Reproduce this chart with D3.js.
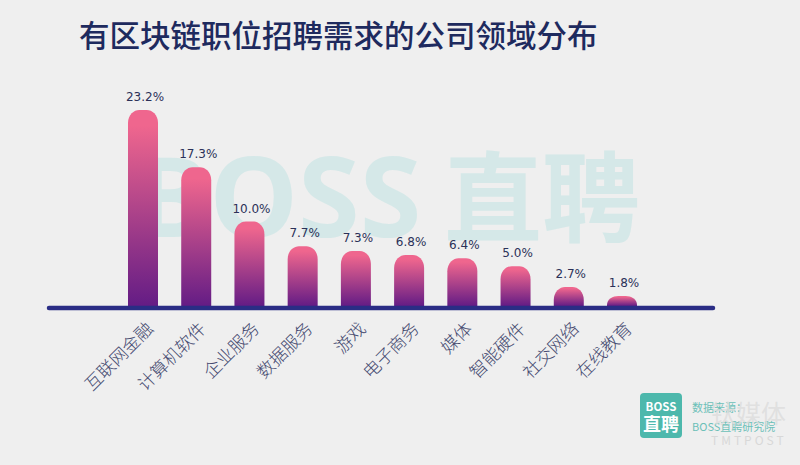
<!DOCTYPE html>
<html><head><meta charset="utf-8">
<script src="https://cdn.jsdelivr.net/npm/d3@7"></script>
<style>html,body{margin:0;padding:0;background:#efefef;overflow:hidden}svg{display:block}</style></head><body>
<svg id="c" width="800" height="465" font-family="'Noto Sans CJK SC','Noto Sans',sans-serif"></svg>
<script>
const categories=["互联网金融","计算机软件","企业服务","数据服务","游戏","电子商务","媒体","智能硬件","社交网络","在线教育"];
const valueLabels=["23.2%","17.3%","10.0%","7.7%","7.3%","6.8%","6.4%","5.0%","2.7%","1.8%"];
// Bar lengths as drawn in the picture; they are not strictly proportional to the printed labels.
const drawnValues=[24.6,17.4,10.6,7.5,6.9,6.4,6.0,5.0,2.4,1.25];
const titleText="有区块链职位招聘需求的公司领域分布";

const svg=d3.select("#c");
const x=d3.scalePoint().domain(categories).range([143,622]);
const y=d3.scaleLinear().domain([0,24.6]).range([306,110]);
const barW=30;

const defs=svg.append("defs");
const g=defs.append("linearGradient").attr("id","bar").attr("x1",0).attr("y1",0).attr("x2",0).attr("y2",1);
g.append("stop").attr("offset","8%").attr("stop-color","#ef668e");
g.append("stop").attr("offset","100%").attr("stop-color","#641c85");

svg.append("rect").attr("width",800).attr("height",465).attr("fill","#efefef");

// watermark
svg.append("text").attr("x",135).attr("y",237).attr("font-size",112).attr("font-weight",700)
 .attr("font-family","'Noto Sans',sans-serif").attr("fill","#d5e8e8").text("BOSS");
svg.append("text").attr("x",444).attr("y",234).attr("font-size",98).attr("font-weight",700)
 .attr("fill","#d5e8e8").text("直聘");

svg.append("text").attr("x",79).attr("y",47).attr("font-size",30.5).attr("font-weight",500)
 .attr("fill","#1e2a5e").text(titleText);

function barPath(d){
  const cx=x(d.c),t=y(d.v),b=y(0),w=barW/2,r=Math.min(13,(b-t)*0.9);
  const p=d3.path();
  p.moveTo(cx-w,b);p.lineTo(cx-w,t+r);
  p.bezierCurveTo(cx-w,t+r*0.35,cx-w*0.6,t,cx-w*0.25,t);
  p.lineTo(cx+w*0.25,t);
  p.bezierCurveTo(cx+w*0.6,t,cx+w,t+r*0.35,cx+w,t+r);
  p.lineTo(cx+w,b);p.closePath();
  return p.toString();
}
const data=categories.map((c,i)=>({c,v:drawnValues[i],l:valueLabels[i]}));
svg.append("g").selectAll("path").data(data).join("path").attr("d",barPath).attr("fill","url(#bar)");

svg.append("g").selectAll("text").data(data).join("text")
 .attr("x",d=>x(d.c)+2).attr("y",d=>y(d.v)-9).attr("text-anchor","middle")
 .attr("font-size",12).attr("font-family","'DejaVu Sans',sans-serif").attr("fill","#2b3158").text(d=>d.l);

svg.append("line").attr("x1",49).attr("x2",713).attr("y1",308).attr("y2",308)
 .attr("stroke","#2a2d85").attr("stroke-width",4.5).attr("stroke-linecap","round");

svg.append("g").selectAll("text").data(data).join("text")
 .attr("transform",d=>`translate(${x(d.c)+11},${330}) rotate(-45)`)
 .attr("text-anchor","end").attr("font-size",17.5).attr("font-weight",300).attr("fill","#454a70").text(d=>d.c);

// logo
svg.append("rect").attr("x",640).attr("y",393).attr("width",42).attr("height",45).attr("rx",4).attr("fill","#4db8ac");
svg.append("text").attr("x",661).attr("y",411).attr("text-anchor","middle").attr("font-size",11.5).attr("font-weight",700).attr("fill","#fff").text("BOSS");
svg.append("text").attr("x",661).attr("y",431).attr("text-anchor","middle").attr("font-size",18).attr("font-weight",700).attr("fill","#fff").text("直聘");
svg.append("text").attr("x",692).attr("y",412).attr("font-size",11).attr("fill","#6cc0b8").text("数据来源：");
svg.append("text").attr("x",692).attr("y",431).attr("font-size",11).attr("fill","#6cc0b8").text("BOSS直聘研究院");
svg.append("text").attr("x",711).attr("y",423).attr("font-size",25).attr("fill","#dcdcdc").attr("fill-opacity",0.8).text("钛媒体");
svg.append("text").attr("x",711).attr("y",445).attr("font-size",12).attr("letter-spacing",3).attr("fill","#d8d8d8").text("TMTPOST");
</script></body></html>
